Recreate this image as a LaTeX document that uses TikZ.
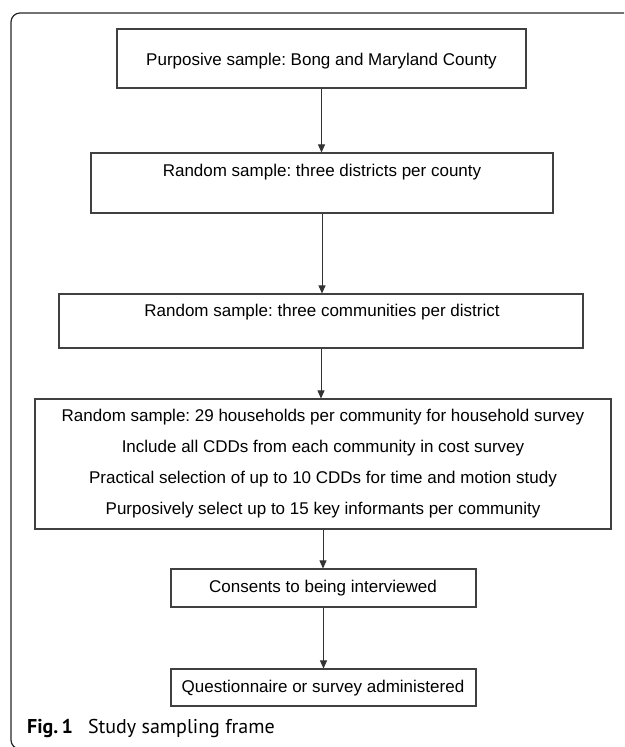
\documentclass[tikz,border=0pt]{standalone}
\usepackage{fontspec}
\setmainfont{Liberation Sans}
\newfontfamily\capfont{PT Sans}
\usetikzlibrary{arrows.meta}
\frenchspacing
\begin{document}
\begin{tikzpicture}[x=1pt,y=-1pt,
  box/.style={draw=black!75, line width=1.1pt, inner sep=0pt},
  lbl/.style={font=\fontsize{17}{20}\selectfont, anchor=base, inner sep=0pt},
  arr/.style={draw=black!80, line width=0.8pt, -{Triangle[length=8pt,width=7pt]}}]
\useasboundingbox (0,0) rectangle (624,747);
\begin{scope}
\clip (0,0) rectangle (624,747);
\draw[black!85, line width=1.2pt, rounded corners=9pt] (11,13) rectangle (660,749);
\end{scope}
% boxes
\node[box, minimum width=409pt, minimum height=59pt] (b1) at (321.5,58.5) {};
\node[box, minimum width=462pt, minimum height=60pt] (b2) at (322,183) {};
\node[box, minimum width=524pt, minimum height=54pt] (b3) at (321,321) {};
\node[box, minimum width=576pt, minimum height=130pt] (b4) at (323,464) {};
\node[box, minimum width=305pt, minimum height=38pt] (b5) at (323.5,588) {};
\node[box, minimum width=305pt, minimum height=37pt] (b6) at (323.5,687.5) {};
% texts
\node[lbl] (t1) at (321.5,65) {Purposive sample: Bong and Maryland County};
\node[lbl] (t2) at (322,176) {Random sample: three districts per county};
\node[lbl] (t3) at (322,316) {Random sample: three communities per district};
\node[lbl] (t4a) at (323,421.5) {Random sample: 29 households per community for household survey};
\node[lbl] (t4b) at (323,452) {Include all CDDs from each community in cost survey};
\node[lbl] (t4c) at (323,483) {Practical selection of up to 10 CDDs for time and motion study};
\node[lbl] (t4d) at (323,514) {Purposively select up to 15 key informants per community};
\node[lbl] (t5) at (323,592) {Consents to being interviewed};
\node[lbl] (t6) at (323,692) {Questionnaire or survey administered};
% caption
\node[anchor=base west, inner sep=0pt, font=\capfont\fontsize{20}{23}\selectfont] (cap) at (27,733) {\textbf{Fig.\,1}\hspace{0.75em}Study sampling frame};
% arrows
\draw[arr] (b1.south) -- (b1.south |- b2.north);
\draw[arr] (b2.south) -- (b2.south |- b3.north);
\draw[arr] (b3.south) -- (b3.south |- b4.north);
\draw[arr] (b4.south) -- (b4.south |- b5.north);
\draw[arr] (b5.south) -- (b5.south |- b6.north);
\end{tikzpicture}
\end{document}
